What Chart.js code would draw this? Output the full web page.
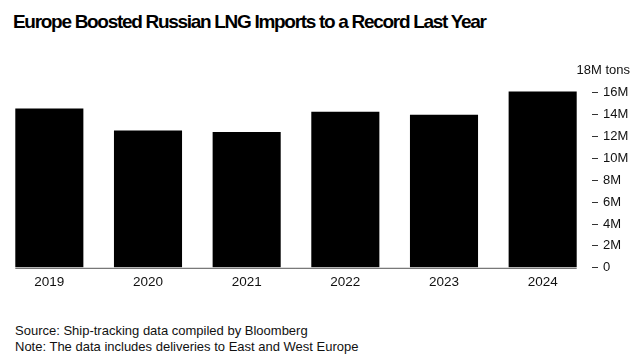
<!DOCTYPE html>
<html>
<head>
<meta charset="utf-8">
<script src="https://cdn.jsdelivr.net/npm/chart.js@4.4.1/dist/chart.umd.min.js"></script>
<style>
  html, body { margin: 0; padding: 0; background: #fff; }
  body { width: 637px; height: 362px; position: relative; overflow: hidden;
         font-family: "Liberation Sans", Arial, sans-serif; color: #000; }
  #title { position: absolute; left: 13px; top: 11px; font-size: 19px; font-weight: bold;
           letter-spacing: -1.3px; white-space: nowrap; }
  #wrap { position: absolute; left: 0; top: 58px; width: 637px; height: 238px; }
  #foot { position: absolute; left: 15px; top: 323px; font-size: 13px; line-height: 15.5px; color: #111; }
</style>
</head>
<body>
<div id="title">Europe Boosted Russian LNG Imports to a Record Last Year</div>
<div id="wrap"><canvas id="chart"></canvas></div>
<div id="foot">Source: Ship-tracking data compiled by Bloomberg<br>Note: The data includes deliveries to East and West Europe</div>
<script>
// Values, million tons
const years = ['2019', '2020', '2021', '2022', '2023', '2024'];
const imports = [14.55, 12.55, 12.4, 14.25, 13.98, 16.12];
const yTicks = [0, 2, 4, 6, 8, 10, 12, 14, 16, 18];

// baseline under the bars, from first bar edge to last bar edge
const baseline = {
  id: 'baseline',
  afterDatasetsDraw(chart) {
    const bars = chart.getDatasetMeta(0).data;
    const y = chart.scales.y.getPixelForValue(0);
    const first = bars[0], last = bars[bars.length - 1];
    const ctx = chart.ctx;
    ctx.save();
    ctx.strokeStyle = '#555';
    ctx.lineWidth = 1;
    ctx.beginPath();
    ctx.moveTo(first.x - first.width / 2, y + 0.5);
    ctx.lineTo(last.x + last.width / 2, y + 0.5);
    ctx.stroke();
    ctx.restore();
  },
};

// unit label sitting at the top tick
const unitLabel = {
  id: 'unitLabel',
  afterDraw(chart) {
    const y = chart.scales.y.getPixelForValue(18);
    const ctx = chart.ctx;
    ctx.save();
    ctx.font = '13px "Liberation Sans", Arial, sans-serif';
    ctx.fillStyle = '#111';
    ctx.textAlign = 'right';
    ctx.textBaseline = 'middle';
    ctx.fillText('18M tons', 630, y);
    ctx.restore();
  },
};

new Chart(document.getElementById('chart'), {
  type: 'bar',
  data: {
    labels: years,
    datasets: [{
      data: imports,
      backgroundColor: '#000',
      borderWidth: 0,
      barPercentage: 0.69,
      categoryPercentage: 1,
    }],
  },
  options: {
    responsive: true,
    maintainAspectRatio: false,
    animation: false,
    layout: { padding: { left: 0, right: 0, top: 4, bottom: 0 } },
    plugins: { legend: { display: false }, tooltip: { enabled: false } },
    scales: {
      x: {
        grid: { display: false, drawTicks: false },
        border: { display: false },
        ticks: { color: '#111', font: { size: 13.5, family: '"Liberation Sans", Arial, sans-serif' }, padding: 6 },
      },
      y: {
        position: 'right',
        min: 0,
        max: 18,
        afterBuildTicks(scale) { scale.ticks = yTicks.map(v => ({ value: v })); },
        grid: {
          drawOnChartArea: false,
          tickLength: 6,
          color: ctx => ctx.tick && ctx.tick.value === 18 ? 'rgba(0,0,0,0)' : '#333',
        },
        border: { display: false },
        ticks: {
          color: '#111',
          padding: 5,
          font: { size: 13, family: '"Liberation Sans", Arial, sans-serif' },
          callback: v => v === 0 ? '0' : (v === 18 ? '' : v + 'M'),
        },
        afterFit(scale) { scale.width = 45; },
      },
    },
  },
  plugins: [baseline, unitLabel],
});
</script>
</body>
</html>
